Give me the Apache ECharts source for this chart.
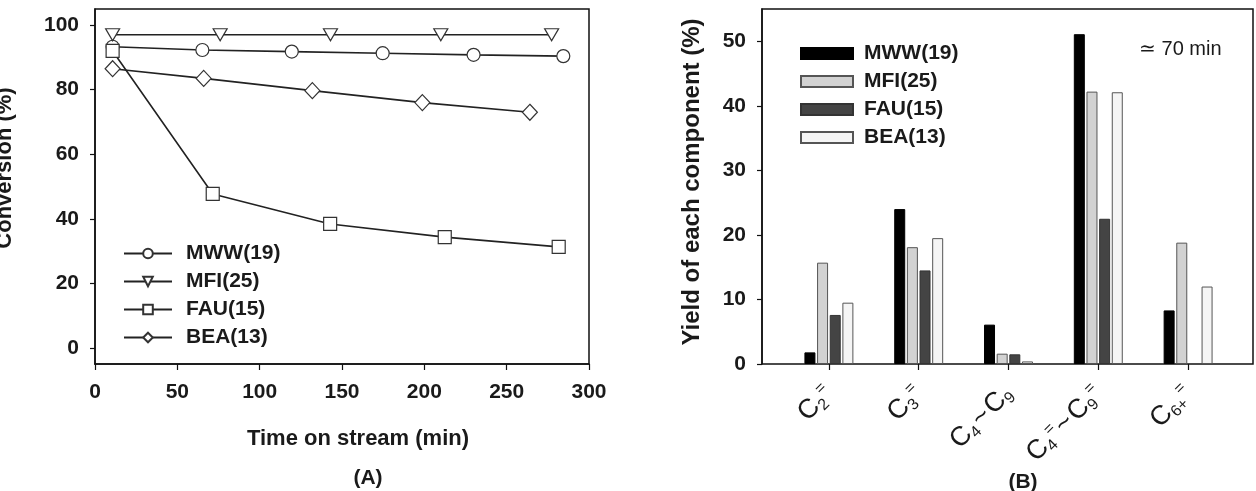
<!DOCTYPE html>
<html><head><meta charset="utf-8">
<script src="https://cdn.jsdelivr.net/npm/echarts@6/dist/echarts.min.js"></script>
<style>html,body{margin:0;padding:0;background:#fff}#c{width:1256px;height:491px}</style>
</head><body><div id="c"></div><script>
// ---- Panel A data (time on stream, min ; conversion, %) ----
const seriesNames = ['MWW(19)', 'MFI(25)', 'FAU(15)', 'BEA(13)'];
const timeMWW = [10.7, 65.2, 119.5, 174.7, 229.9, 284.4];
const convMWW = [93.3, 92.3, 91.8, 91.3, 90.8, 90.4];
const timeMFI = [10.7, 76.0, 143.0, 210.0, 277.3];
const convMFI = [97.0, 97.0, 97.0, 97.0, 97.0];
const timeFAU = [10.7, 71.5, 142.8, 212.4, 281.6];
const convFAU = [92.0, 47.7, 38.4, 34.3, 31.3];
const timeBEA = [10.7, 66.0, 132.0, 198.8, 264.1];
const convBEA = [86.5, 83.5, 79.7, 76.0, 73.0];
const xTicksA = [0, 50, 100, 150, 200, 250, 300];
const yTicksA = [0, 20, 40, 60, 80, 100];

// ---- Panel B data (yield of each component, %) ----
const categories = ['C2=', 'C3=', 'C4~C9', 'C4=~C9=', 'C6+'];
const yieldMWW = [1.8, 24.0, 6.1, 51.1, 8.3];
const yieldMFI = [15.7, 18.1, 1.6, 42.2, 18.8];
const yieldFAU = [7.6, 14.5, 1.5, 22.5, null];
const yieldBEA = [9.5, 19.5, 0.4, 42.1, 12.0];
const yTicksB = [0, 10, 20, 30, 40, 50];

const catRich = {
  'C2=': '{c|C}{s|2}{p|=}',
  'C3=': '{c|C}{s|3}{p|=}',
  'C4~C9': '{c|C}{s|4}{t|~}{c|C}{s|9}',
  'C4=~C9=': '{c|C}{s|4}{p|=}{t|~}{c|C}{s|9}{p|=}',
  'C6+': '{c|C}{s|6+}{p|=}'
};

const FONT = 'Liberation Sans, Arial, sans-serif';
const TXT = '#1a1a1a';

const chart = echarts.init(document.getElementById('c'), null, {renderer: 'canvas'});

function lineSeries(name, times, vals, symbol, size, rotate) {
  return {
    name: name, type: 'line', xAxisIndex: 0, yAxisIndex: 0,
    data: times.map((t, i) => [t, vals[i]]),
    symbol: symbol, symbolSize: size, symbolRotate: rotate || 0,
    showAllSymbol: true,
    itemStyle: {color: '#fff', borderColor: '#333', borderWidth: 1.2},
    lineStyle: {color: '#222', width: 1.6},
    emphasis: {disabled: true}, animation: false
  };
}
function barSeries(name, vals, fill, border) {
  return {
    name: name + ' ', type: 'bar', xAxisIndex: 2, yAxisIndex: 2,
    data: vals, barWidth: 11, barGap: '15%',
    itemStyle: {color: fill, borderColor: border, borderWidth: 1},
    emphasis: {disabled: true}, animation: false
  };
}

const axisTxt = {fontFamily: FONT, fontWeight: 'bold', fontSize: 21, color: TXT};
const gridBase = {top: 9, bottom: 127, outerBoundsMode: 'none', containLabel: false};

chart.setOption({
  animation: false,
  backgroundColor: '#fff',
  grid: [
    Object.assign({left: 95, right: 667, show: true, borderColor: '#111', borderWidth: 1.5, backgroundColor: 'transparent'}, gridBase),
    Object.assign({left: 762, right: 3, show: true, borderColor: '#111', borderWidth: 1.5, backgroundColor: 'transparent'}, gridBase),
    Object.assign({left: 784, right: 23}, gridBase)
  ],
  xAxis: [
    {gridIndex: 0, type: 'value', min: 0, max: 300, interval: 50,
     axisLine: {show: true, onZero: false, lineStyle: {color: '#111', width: 1.5}},
     axisTick: {show: true, inside: false, length: 6, lineStyle: {color: '#111', width: 1.2}, customValues: xTicksA},
     axisLabel: Object.assign({margin: 18, customValues: xTicksA}, axisTxt),
     splitLine: {show: false},
     name: 'Time on stream (min)', nameLocation: 'middle', nameGap: 64,
     nameTextStyle: {fontFamily: FONT, fontWeight: 'bold', fontSize: 22, color: TXT, padding: [0, 0, 0, 32]}},
    {gridIndex: 1, type: 'value', min: 0, max: 1, show: false},
    {gridIndex: 2, type: 'category', data: categories, boundaryGap: true,
     axisLine: {show: false, onZero: false},
     axisTick: {show: true, alignWithLabel: true, length: 6, lineStyle: {color: '#111', width: 1.2}},
     axisLabel: {interval: 0, rotate: 45, margin: 26, color: TXT,
       formatter: v => catRich[v],
       rich: {
         c: {fontFamily: FONT, fontSize: 27, color: TXT, lineHeight: 30},
         t: {fontFamily: FONT, fontSize: 27, color: TXT, lineHeight: 30, padding: [0, 2, 0, 2]},
         s: {fontFamily: FONT, fontSize: 16, color: TXT, lineHeight: 30, verticalAlign: 'bottom', padding: [10, 0, 0, 0]},
         p: {fontFamily: FONT, fontSize: 16, color: TXT, lineHeight: 30, verticalAlign: 'top'}
       }},
     splitLine: {show: false}}
  ],
  yAxis: [
    {gridIndex: 0, type: 'value', min: -5, max: 105,
     axisLine: {show: true, onZero: false, lineStyle: {color: '#111', width: 1.5}},
     axisTick: {show: true, length: 5, lineStyle: {color: '#111', width: 1.2}, customValues: yTicksA},
     axisLabel: Object.assign({margin: 16, customValues: yTicksA}, axisTxt),
     splitLine: {show: false},
     name: 'Conversion (%)', nameLocation: 'middle', nameRotate: 90, nameGap: 79,
     nameTextStyle: {fontFamily: FONT, fontWeight: 'bold', fontSize: 22, color: TXT, padding: [0, 0, 0, 37]}},
    {gridIndex: 1, type: 'value', min: 0, max: 55,
     axisLine: {show: true, onZero: false, lineStyle: {color: '#111', width: 1.5}},
     axisTick: {show: true, length: 5, lineStyle: {color: '#111', width: 1.2}, customValues: yTicksB},
     axisLabel: Object.assign({margin: 16, customValues: yTicksB}, axisTxt),
     splitLine: {show: false},
     name: 'Yield of each component (%)', nameLocation: 'middle', nameRotate: 90, nameGap: 58,
     nameTextStyle: {fontFamily: FONT, fontWeight: 'bold', fontSize: 24, color: TXT, padding: [0, 0, 0, 9]}},
    {gridIndex: 2, type: 'value', min: 0, max: 55, show: false}
  ],
  legend: [
    {orient: 'vertical', left: 118, top: 238, itemWidth: 48, itemHeight: 12, itemGap: 7,
     data: seriesNames, selectedMode: false,
     textStyle: {fontFamily: FONT, fontWeight: 'bold', fontSize: 21, color: TXT, padding: [0, 0, 0, 9]}},
    {orient: 'vertical', left: 795, top: 38, itemWidth: 52, itemHeight: 11, itemGap: 7,
     data: seriesNames.map(n => n + ' '), selectedMode: false, icon: 'rect',
     formatter: n => n.trim(),
     textStyle: {fontFamily: FONT, fontWeight: 'bold', fontSize: 21, color: TXT, padding: [0, 0, 0, 6]}}
  ],
  graphic: [
    {type: 'text', x: 368, y: 478, style: {text: '(A)', align: 'center', verticalAlign: 'middle', font: 'bold 21px ' + FONT, fill: TXT}},
    {type: 'text', x: 1023, y: 482, style: {text: '(B)', align: 'center', verticalAlign: 'middle', font: 'bold 21px ' + FONT, fill: TXT}},
    {type: 'text', x: 1139, y: 49, style: {text: '\u2243 70 min', align: 'left', verticalAlign: 'middle', font: '20px ' + FONT, fill: TXT}}
  ],
  series: [
    lineSeries(seriesNames[0], timeMWW, convMWW, 'circle', 13),
    lineSeries(seriesNames[1], timeMFI, convMFI, 'triangle', [14, 12], 180),
    lineSeries(seriesNames[2], timeFAU, convFAU, 'rect', 13),
    lineSeries(seriesNames[3], timeBEA, convBEA, 'diamond', [15, 16]),
    barSeries(seriesNames[0], yieldMWW, '#000000', '#000000'),
    barSeries(seriesNames[1], yieldMFI, '#d2d2d2', '#555555'),
    barSeries(seriesNames[2], yieldFAU, '#444444', '#333333'),
    barSeries(seriesNames[3], yieldBEA, '#f5f5f5', '#555555')
  ]
});
</script></body></html>
